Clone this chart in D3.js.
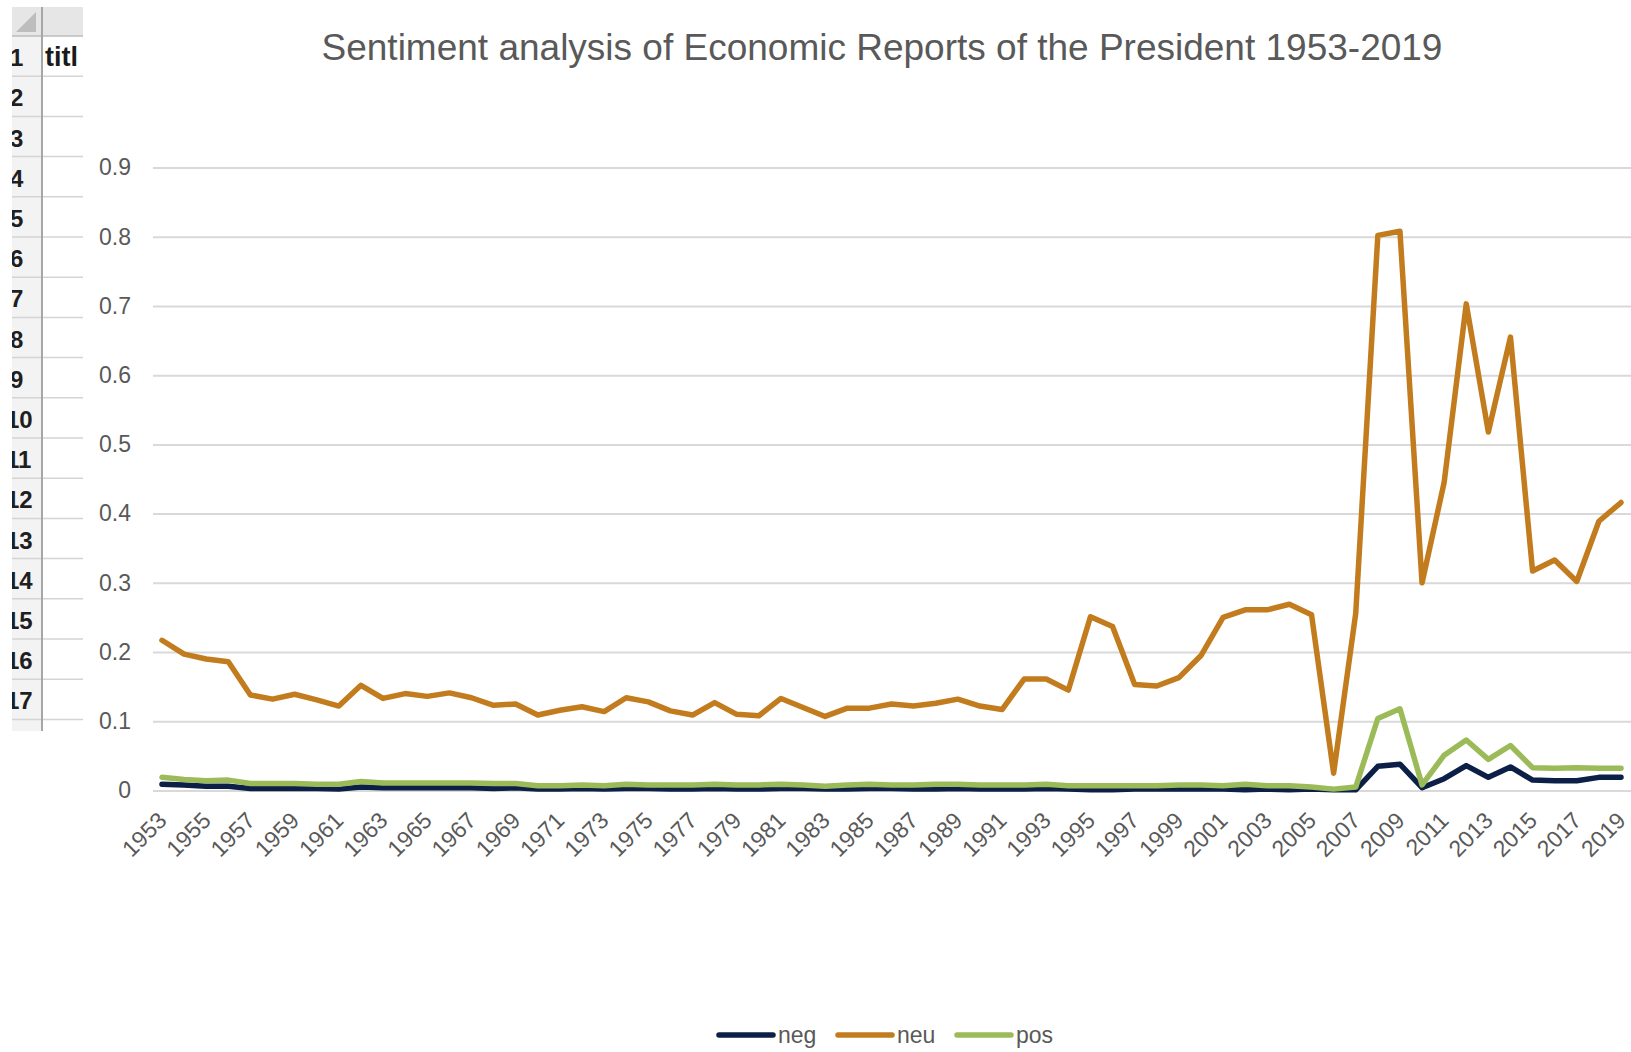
<!DOCTYPE html>
<html>
<head>
<meta charset="utf-8">
<script src="https://cdnjs.cloudflare.com/ajax/libs/d3/7.8.5/d3.min.js"></script>
<style>
  html, body { margin: 0; padding: 0; background: #ffffff; overflow: hidden; }
  svg { display: block; font-family: "Liberation Sans", Arial, sans-serif; }
</style>
</head>
<body>
<script>
/******************************************************************************/
/* DATA                                                                       */
/******************************************************************************/
var years = d3.range(1953, 2020);

var neg = [
  0.009, 0.008, 0.006, 0.006, 0.003, 0.003, 0.003, 0.003, 0.002, 0.005,
  0.004, 0.004, 0.004, 0.004, 0.004, 0.003, 0.004, 0.002, 0.002, 0.003,
  0.002, 0.003, 0.003, 0.002, 0.002, 0.003, 0.002, 0.002, 0.003, 0.003,
  0.002, 0.002, 0.003, 0.003, 0.002, 0.002, 0.003, 0.002, 0.002, 0.002,
  0.003, 0.002, 0.001, 0.001, 0.002, 0.002, 0.002, 0.002, 0.002, 0.001,
  0.002, 0.001, 0.002, 0.001, 0.001, 0.035, 0.038, 0.004, 0.017, 0.036,
  0.019, 0.034, 0.015, 0.014, 0.014, 0.019, 0.019
];

var neu = [
  0.217, 0.197, 0.190, 0.186, 0.138, 0.132, 0.139, 0.131, 0.122, 0.152,
  0.133, 0.140, 0.136, 0.141, 0.134, 0.123, 0.125, 0.109, 0.116, 0.121,
  0.114, 0.134, 0.128, 0.115, 0.109, 0.127, 0.110, 0.108, 0.133, 0.120,
  0.107, 0.119, 0.119, 0.125, 0.122, 0.126, 0.132, 0.122, 0.117, 0.161,
  0.161, 0.145, 0.251, 0.237, 0.153, 0.151, 0.163, 0.195, 0.250, 0.261,
  0.261, 0.269, 0.254, 0.025, 0.256, 0.802, 0.808, 0.300, 0.445, 0.703,
  0.518, 0.655, 0.317, 0.333, 0.302, 0.389, 0.416
];

var pos = [
  0.019, 0.016, 0.014, 0.015, 0.010, 0.010, 0.010, 0.009, 0.009, 0.013,
  0.011, 0.011, 0.011, 0.011, 0.011, 0.010, 0.010, 0.007, 0.007, 0.008,
  0.007, 0.009, 0.008, 0.008, 0.008, 0.009, 0.008, 0.008, 0.009, 0.008,
  0.006, 0.008, 0.009, 0.008, 0.008, 0.009, 0.009, 0.008, 0.008, 0.008,
  0.009, 0.007, 0.007, 0.007, 0.007, 0.007, 0.008, 0.008, 0.007, 0.009,
  0.007, 0.007, 0.005, 0.002, 0.005, 0.104, 0.118, 0.008, 0.051, 0.073,
  0.045, 0.065, 0.033, 0.032, 0.033, 0.032, 0.032
];

var seriesNames  = ["neg", "neu", "pos"];
var seriesColors = ["#0c1f47", "#c27c1e", "#9bbb59"];
var yTicks = [0, 0.1, 0.2, 0.3, 0.4, 0.5, 0.6, 0.7, 0.8, 0.9];
var rowLabels = d3.range(1, 18);
var titleText = "Sentiment analysis of Economic Reports of the President 1953-2019";

/******************************************************************************/
/* GLOBAL                                                                     */
/******************************************************************************/
var width  = 1631;
var height = 1052;
var textColor = "#595959";

var x = d3.scaleLinear().domain([1953, 2019]).range([162, 1621]);
var y = d3.scaleLinear().domain([0, 0.9]).range([790.5, 167.5]);

var svg = d3.select("body")
  .append("svg")
  .attr("width", width)
  .attr("height", height);

/******************************************************************************/
/* SPREADSHEET SCRAP ON THE LEFT                                              */
/******************************************************************************/
var drawSheet = function() {
  var g = svg.append("g");
  var top = 36, rowH = 40.2;

  // column header strip
  g.append("rect").attr("x", 12).attr("y", 7).attr("width", 71).attr("height", top - 7)
    .attr("fill", "#e6e6e6");
  g.append("path").attr("d", "M36,12 L36,32 L16,32 Z").attr("fill", "#bdbdbd");
  // row header column
  g.append("rect").attr("x", 12).attr("y", top).attr("width", 30).attr("height", 731 - top)
    .attr("fill", "#f3f3f3");

  g.selectAll("line.row")
    .data(rowLabels)
    .enter()
    .append("line")
    .attr("class", "row")
    .attr("x1", 12).attr("x2", 83)
    .attr("y1", function(d) { return top + d * rowH; })
    .attr("y2", function(d) { return top + d * rowH; })
    .attr("stroke", "#d4d4d4").attr("stroke-width", 1.5);

  g.append("line").attr("x1", 12).attr("x2", 83).attr("y1", top).attr("y2", top)
    .attr("stroke", "#bcbcbc").attr("stroke-width", 1.5);
  g.append("line").attr("x1", 42).attr("x2", 42).attr("y1", 7).attr("y2", 731)
    .attr("stroke", "#a6a6a6").attr("stroke-width", 2);

  g.selectAll("text.row")
    .data(rowLabels)
    .enter()
    .append("text")
    .attr("class", "row")
    .attr("x", function(d) { return d < 10 ? 10 : 6; })
    .attr("y", function(d) { return top + (d - 0.5) * rowH + 10; })
    .attr("font-size", 24)
    .attr("font-weight", 600)
    .attr("fill", "#1f1f1f")
    .text(function(d) { return d; });

  g.append("text").attr("x", 45).attr("y", top + 0.5 * rowH + 10)
    .attr("font-size", 27).attr("font-weight", "bold").attr("fill", "#1a1a1a")
    .text("titl");

  // clip the left edge of the row numbers
  svg.append("rect").attr("x", 0).attr("y", 0).attr("width", 12).attr("height", height)
    .attr("fill", "#ffffff");
};

/******************************************************************************/
/* CHART                                                                      */
/******************************************************************************/
var drawChart = function() {
  svg.append("rect").attr("x", 83).attr("y", 0).attr("width", width - 83).attr("height", height)
    .attr("fill", "#ffffff");

  svg.append("text")
    .attr("x", 882).attr("y", 60)
    .attr("text-anchor", "middle")
    .attr("font-size", 37)
    .attr("fill", textColor)
    .text(titleText);

  // gridlines + y labels
  svg.append("g")
    .attr("transform", "translate(153,0)")
    .call(d3.axisLeft(y).tickValues(yTicks).tickSize(-(width - 153)).tickPadding(22)
      .tickFormat(function(d) { return d === 0 ? "0" : d3.format(".1f")(d); }))
    .call(function(g) { g.select(".domain").remove(); })
    .call(function(g) {
      g.selectAll(".tick line").attr("stroke", "#d9d9d9").attr("stroke-width", 2);
      g.selectAll(".tick text").attr("fill", textColor).attr("font-size", 23)
        .attr("font-family", "Liberation Sans, Arial, sans-serif");
    });

  // x labels, every other year
  svg.append("g")
    .selectAll("text")
    .data(years.filter(function(d) { return (d - 1953) % 2 === 0; }))
    .enter()
    .append("text")
    .attr("transform", function(d) { return "translate(" + (x(d) + 6) + ",822) rotate(-45)"; })
    .attr("text-anchor", "end")
    .attr("font-size", 23)
    .attr("fill", textColor)
    .text(function(d) { return d; });

  var line = d3.line()
    .x(function(d, i) { return x(years[i]); })
    .y(function(d) { return y(d); });

  svg.append("g")
    .selectAll("path")
    .data([neg, neu, pos])
    .enter()
    .append("path")
    .attr("d", line)
    .attr("fill", "none")
    .attr("stroke", function(d, i) { return seriesColors[i]; })
    .attr("stroke-width", 5.5)
    .attr("stroke-linejoin", "round")
    .attr("stroke-linecap", "round");
};

var drawLegend = function() {
  var starts = [719, 838, 957];
  var lg = svg.append("g")
    .selectAll("g")
    .data(seriesNames)
    .enter()
    .append("g")
    .attr("transform", function(d, i) { return "translate(" + starts[i] + ",1035)"; });

  lg.append("line")
    .attr("x1", 0).attr("x2", 54)
    .attr("stroke", function(d, i) { return seriesColors[i]; })
    .attr("stroke-width", 5.5)
    .attr("stroke-linecap", "round");

  lg.append("text")
    .attr("x", 59).attr("y", 8)
    .attr("font-size", 23)
    .attr("fill", textColor)
    .text(function(d) { return d; });
};

/******************************************************************************/
/* RUNTIME                                                                    */
/******************************************************************************/
drawSheet();
drawChart();
drawLegend();
</script>
</body>
</html>
